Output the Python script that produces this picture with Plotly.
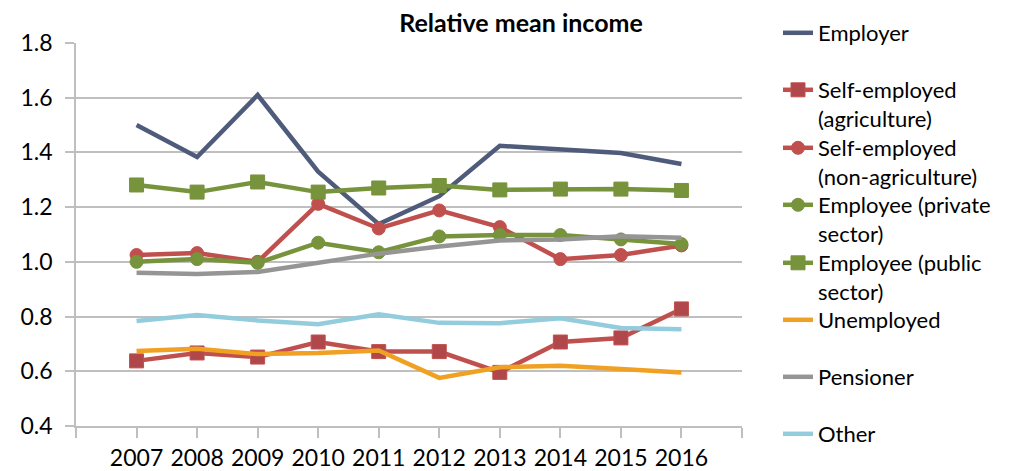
import plotly.graph_objects as go

years = [2007, 2008, 2009, 2010, 2011, 2012, 2013, 2014, 2015, 2016]
year_labels = ["2007", "2008", "2009", "2010", "2011", "2012", "2013", "2014", "2015", "2016"]

employer = [1.50, 1.383, 1.61, 1.33, 1.138, 1.24, 1.424, 1.41, 1.398, 1.358]
self_agri = [0.638, 0.667, 0.652, 0.707, 0.672, 0.672, 0.596, 0.707, 0.722, 0.828]
self_nonagri = [1.025, 1.032, 1.0, 1.212, 1.122, 1.188, 1.127, 1.01, 1.025, 1.06]
emp_private = [1.0, 1.01, 0.996, 1.07, 1.035, 1.093, 1.098, 1.098, 1.082, 1.065]
emp_public = [1.281, 1.255, 1.292, 1.255, 1.27, 1.279, 1.263, 1.266, 1.266, 1.261]
unemployed = [0.674, 0.682, 0.663, 0.667, 0.676, 0.576, 0.615, 0.62, 0.608, 0.596]
pensioner = [0.96, 0.956, 0.963, 0.996, 1.03, 1.056, 1.078, 1.082, 1.094, 1.088]
other = [0.784, 0.806, 0.786, 0.772, 0.808, 0.777, 0.776, 0.794, 0.758, 0.754]

y_ticks = [0.4, 0.6, 0.8, 1.0, 1.2, 1.4, 1.6, 1.8]
y_tick_labels = ["0.4", "0.6", "0.8", "1.0", "1.2", "1.4", "1.6", "1.8"]

FONT = "Lato"

# page body has an 8px margin; the figure is sized/offset to compensate
OFF = 8
W, H = 1019 - OFF, 471 - OFF
PL, PR, PT, PB = 76 - OFF, 742 - OFF, 43 - OFF, 426 - OFF   # plot area in figure px
plot_h = PB - PT

series = [
    ("Employer", employer, "#4E5B7A", None, None),
    ("Self-employed<br>(agriculture)", self_agri, "#C0504D", "square", "#B0474A"),
    ("Self-employed<br>(non-agriculture)", self_nonagri, "#C0504D", "circle", "#C0504D"),
    ("Employee (private<br>sector)", emp_private, "#77933C", "circle", "#77933C"),
    ("Employee (public<br>sector)", emp_public, "#77933C", "square", "#77933C"),
    ("Unemployed", unemployed, "#F0A022", None, None),
    ("Pensioner", pensioner, "#959595", None, None),
    ("Other", other, "#93CDDD", None, None),
]

# legend first-line centres (screen px)
legend_centres = [33, 90, 148, 205, 263, 320, 377, 434]
LEG_TEXT_X = 818
LEG_FONT = 22
LEG_OFF = 21

fig = go.Figure()
layout_legends = {}
for i, (name, vals, color, sym, mcol) in enumerate(series):
    lg = "legend" if i == 0 else f"legend{i + 1}"
    kw = dict(x=years, y=vals, name=name, legend=lg, line=dict(color=color, width=4.5))
    if sym is None:
        fig.add_trace(go.Scatter(mode="lines", **kw))
    else:
        fig.add_trace(go.Scatter(mode="lines+markers",
                                 marker=dict(symbol=sym, size=14 if sym == "square" else 13,
                                             color=mcol, line=dict(color=color, width=1)),
                                 **kw))
    top_fig = legend_centres[i] - OFF - LEG_OFF
    layout_legends[lg] = dict(
        x=(LEG_TEXT_X - OFF - 40 - PL) / (PR - PL), xanchor="left",
        y=(PB - top_fig) / plot_h, yanchor="top", valign="top",
        font=dict(family=FONT, size=LEG_FONT, color="#000000"),
        bgcolor="rgba(0,0,0,0)", itemwidth=30)

fig.update_layout(
    width=W, height=H,
    margin=dict(l=PL, r=W - PR, t=PT, b=H - PB, autoexpand=False),
    paper_bgcolor="white", plot_bgcolor="white",
    font=dict(family=FONT, size=23, color="#000000"),
    title=dict(text="<b>Relative mean income</b>", x=(521 - OFF) / W, xanchor="center",
               y=1 - (23 - OFF) / H, yanchor="middle", font=dict(family=FONT, size=25, color="#000000")),
    showlegend=True,
    xaxis=dict(range=[2006, 2017], tickmode="array",
               tickvals=[2006] + years + [2017], ticktext=[""] + year_labels + [""],
               showgrid=False, zeroline=False, showline=True, linecolor="#BFBFBF", linewidth=1.5,
               ticks="outside", ticklen=10, tickcolor="#BFBFBF", tickwidth=1.5,
               ticklabelstandoff=1, tickfont=dict(family=FONT, size=23)),
    yaxis=dict(range=[0.4, 1.8], tickmode="array", tickvals=y_ticks, ticktext=y_tick_labels,
               showgrid=True, gridcolor="#BFBFBF", gridwidth=1.5, zeroline=False,
               showline=True, linecolor="#BFBFBF", linewidth=1.5,
               ticks="outside", ticklen=9, tickcolor="#BFBFBF", tickwidth=1.5,
               ticklabelstandoff=8, tickfont=dict(family=FONT, size=23)),
    **layout_legends,
)

fig.write_html("out.html")
